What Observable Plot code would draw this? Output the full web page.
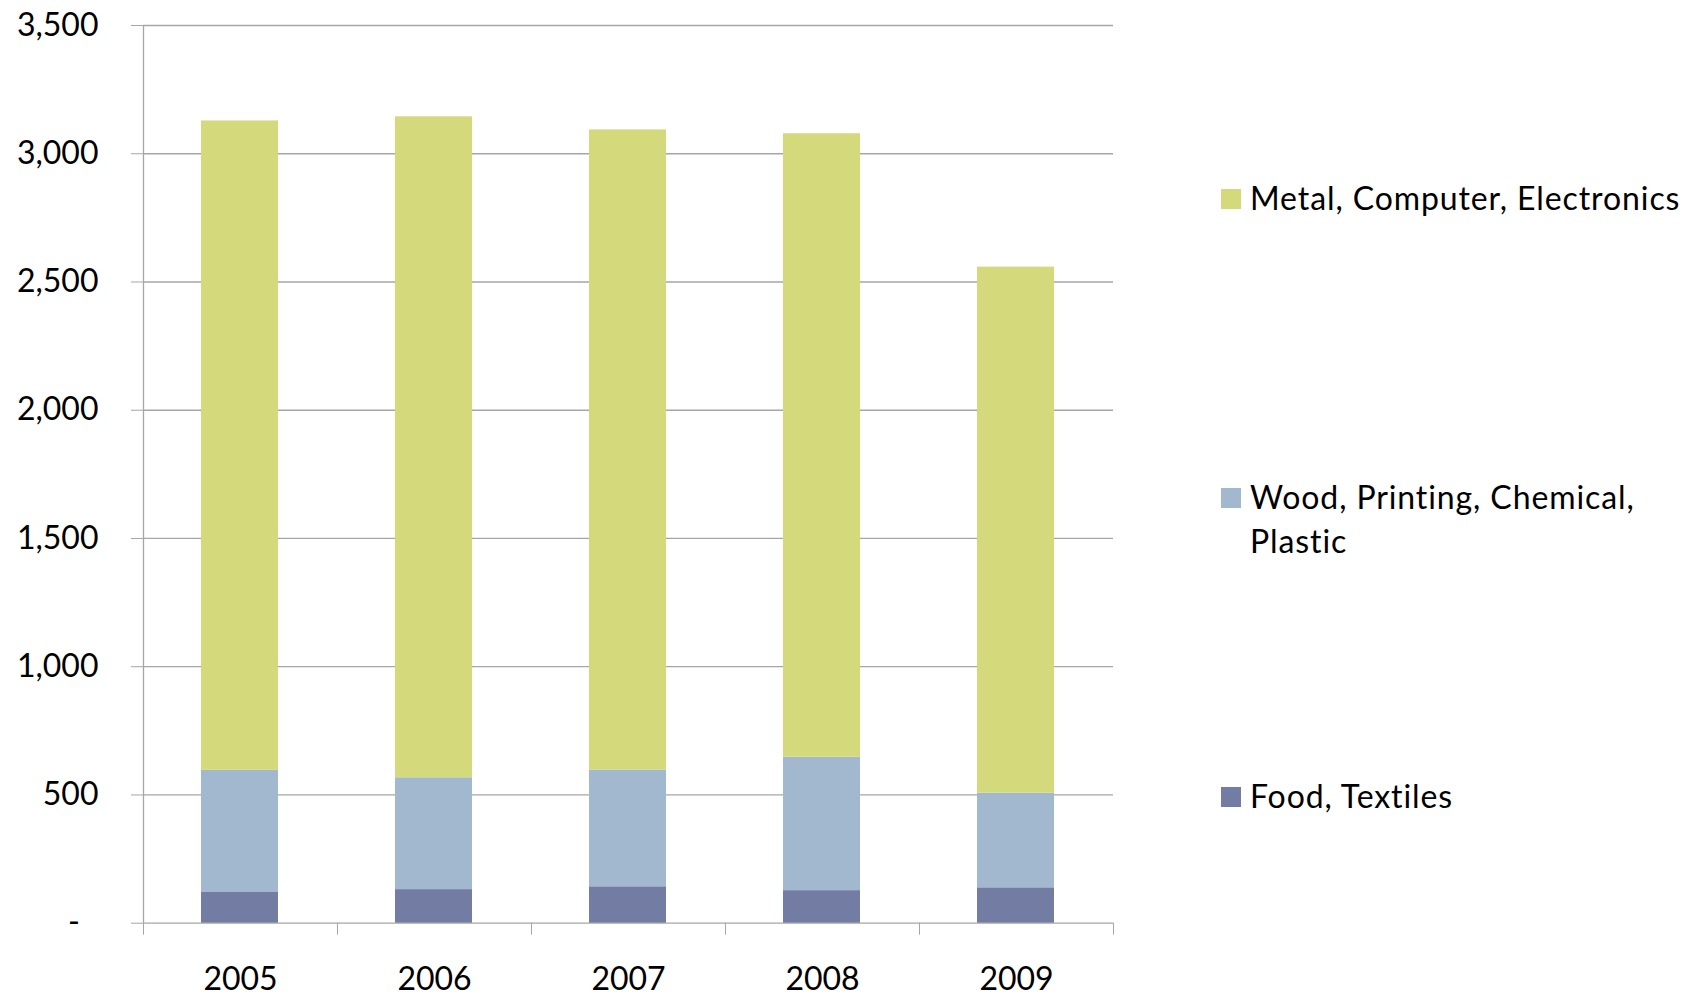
<!DOCTYPE html>
<html>
<head>
<meta charset="utf-8">
<script src="https://cdn.jsdelivr.net/npm/d3@7"></script>
<script src="https://cdn.jsdelivr.net/npm/@observablehq/plot@0.6"></script>
<style>
  html, body { margin: 0; padding: 0; background: #fff; }
  #wrap { position: relative; width: 1700px; height: 996px; font-family: Lato, "Open Sans", sans-serif; }
  #legend { position: absolute; left: 0; top: 0; }
  .item { position: absolute; left: 1221px; }
  .sw { position: absolute; left: 0; width: 20px; height: 20px; }
  .lab { position: absolute; left: 29px; width: 460px; font-size: 32px; line-height: 44px; letter-spacing: 0.9px; color: #000; }
</style>
</head>
<body>
<div id="wrap"><div id="legend"></div></div>
<script>
const years = ["2005", "2006", "2007", "2008", "2009"];
const seriesNames = ["Food, Textiles", "Wood, Printing, Chemical, Plastic", "Metal, Computer, Electronics"];
const foodTextiles = [122, 131, 142, 127, 138];
const woodPrintingChemicalPlastic = [474, 436, 455, 520, 369];
const metalComputerElectronics = [2532, 2577, 2496, 2431, 2051];
const seriesColors = ["#737ca2", "#a2b8ce", "#d4da7c"];
const yTicks = [0, 500, 1000, 1500, 2000, 2500, 3000, 3500];

const seriesValues = [foodTextiles, woodPrintingChemicalPlastic, metalComputerElectronics];
const data = [];
years.forEach((year, i) => {
  seriesNames.forEach((s, j) => data.push({year, series: s, value: seriesValues[j][i]}));
});

const W = 1700, H = 996, mL = 143, mR = 587, mT = 25, mB = 73.3;
const half = (W - mL - mR) / years.length / 2;
const gray = "#a6a6a6";

const chart = Plot.plot({
  width: W, height: H,
  marginLeft: mL, marginRight: mR, marginTop: mT, marginBottom: mB,
  style: {fontFamily: "Lato, 'Open Sans', sans-serif", fontSize: "32px", color: "#000", background: "#fff"},
  x: {domain: years, padding: 0, axis: null, label: null},
  y: {domain: [0, 3500], axis: null, label: null},
  color: {domain: seriesNames, range: seriesColors},
  marks: [
    Plot.gridY(yTicks, {stroke: gray, strokeOpacity: 1, strokeWidth: 1.3}),
    Plot.barY(data, {x: "year", y: "value", fill: "series", insetLeft: 58, insetRight: 59}),
    Plot.ruleX([years[0]], {dx: -half, stroke: gray, strokeWidth: 1.3}),
    Plot.axisY(yTicks, {tickSize: 12, tickPadding: 33, stroke: gray, fill: "#000", label: null,
      tickFormat: d => d === 0 ? "-\u2007" : d3.format(",")(d)}),
    Plot.axisX(years, {tickSize: 12, dx: -half, stroke: gray, tickFormat: () => "", label: null}),
    Plot.axisX([years[years.length - 1]], {tickSize: 12, dx: half, stroke: gray, tickFormat: () => "", label: null}),
    Plot.axisX(years, {tickSize: 0, tickPadding: 44, fill: "#000", label: null})
  ]
});
document.getElementById("wrap").prepend(chart);

// legend (top to bottom: reverse of stack order)
const legendTops = {"Metal, Computer, Electronics": 189, "Wood, Printing, Chemical, Plastic": 488, "Food, Textiles": 787};
const legend = document.getElementById("legend");
seriesNames.slice().reverse().forEach(s => {
  const item = document.createElement("div");
  item.className = "item";
  item.style.top = legendTops[s] + "px";
  const sw = document.createElement("div");
  sw.className = "sw";
  sw.style.background = seriesColors[seriesNames.indexOf(s)];
  const lab = document.createElement("div");
  lab.className = "lab";
  lab.style.top = "-13px";
  lab.textContent = s;
  item.appendChild(sw);
  item.appendChild(lab);
  legend.appendChild(item);
});
</script>
</body>
</html>
